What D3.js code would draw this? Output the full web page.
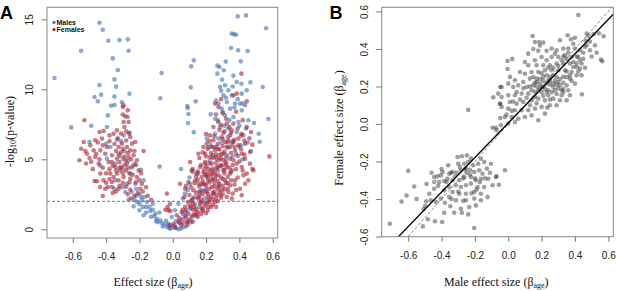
<!DOCTYPE html>
<html>
<head>
<meta charset="utf-8">
<script src="https://cdn.jsdelivr.net/npm/d3@7"></script>
<style>
  body { margin: 0; background: #fff; }
  svg { display: block; }
</style>
</head>
<body>
<svg width="617" height="291"></svg>
<script>
// panel A: effect size vs -log10(p), males (blue) and females (red)
const malesA = [
  [-0.44,14.76],[-0.42,14.26],[-0.55,12.76],[-0.387,13.47],[-0.32,13.52],[-0.27,13.57],[-0.265,12.76],
  [-0.36,12.21],[-0.33,11.38],[-0.35,10.71],[-0.34,10.19],[-0.44,10.31],[-0.71,10.81],[-0.067,11.17],
  [-0.075,9.36],[-0.43,9.62],[-0.47,9.45],[-0.45,9.14],[-0.35,9.48],[-0.26,9.69],[-0.37,8.83],[-0.35,8.88],
  [-0.305,9.07],[-0.39,8.14],[-0.27,8.02],[-0.61,7.28],[-0.49,7.4],[-0.395,7.31],[-0.263,6.83],[-0.50,6.24],
  [-0.40,6.12],[-0.435,4.55],[-0.079,4.48],[-0.295,6.71],[-0.325,5.4],[-0.345,4.69],[-0.30,4.33],[-0.23,4.69],
  [-0.19,4.26],[-0.175,3.5],[-0.275,3.26],[-0.285,2.67],[-0.265,2.12],[-0.23,2.12],[-0.215,1.95],[-0.19,2.31],
  [-0.17,2.31],[-0.185,2.07],[-0.155,1.95],[-0.16,1.6],[-0.235,1.64],[-0.20,1.36],[-0.175,1.0],[-0.135,1.31],
  [-0.12,1.83],[-0.105,1.12],[-0.095,0.76],[-0.075,0.64],[-0.065,0.45],[-0.05,0.36],[-0.035,0.17],[-0.025,0.29],
  [-0.015,0.05],[-0.247,2.67],[-0.335,6.4],[-0.30,5.05],[-0.345,3.5],[-0.395,5.05],[-0.375,5.88],[-0.255,3.98],
  [-0.22,2.9],[-0.2,2.5],[-0.14,1.6],[-0.11,0.95],[-0.09,0.5],[-0.06,0.2],
  [-0.12,1.4],[-0.1,0.6],[-0.08,1.2],[-0.04,0.6],[-0.02,0.1],[-0.13,0.9],[-0.16,1.2],[-0.2,1.8],[-0.22,2.4],
  [-0.18,1.6],[-0.31,6.3],[-0.29,5.6],[-0.27,4.9],[-0.32,4.4],[-0.25,4.4],[-0.22,3.4],[-0.3,3.0],[-0.35,2.9],
  [0.39,15.21],[0.44,15.28],[0.56,14.36],[0.354,13.98],[0.368,13.93],[0.38,13.9],[0.35,12.95],[0.392,12.79],
  [0.45,12.74],[0.318,11.98],[0.408,12.0],[0.126,12.07],[0.11,11.64],[0.268,11.69],[0.28,11.6],[0.306,11.36],
  [0.268,11.12],[0.364,10.98],[0.296,10.69],[0.384,10.52],[0.412,10.4],[0.466,10.5],[0.108,10.14],[0.54,10.17],
  [0.138,9.14],[0.088,8.81],[0.09,8.67],[0.094,8.24],[0.092,7.6],[0.574,7.88],[0.126,6.93],[0.488,7.6],
  [0.516,6.83],[0.522,6.26],[0.05,4.31],[0.284,10.17],[0.314,10.29],[0.334,9.93],[0.304,9.57],[0.354,9.57],
  [0.324,9.1],[0.374,8.98],[0.274,8.98],[0.294,8.62],[0.344,8.62],[0.404,8.98],[0.414,8.5],[0.434,8.86],
  [0.228,8.21],[0.254,7.9],[0.314,8.14],[0.364,8.02],[0.394,7.67],[0.454,7.79],[0.284,7.31],[0.334,7.19],
  [0.384,6.95],[0.424,6.71],[0.274,6.48],[0.204,6.48],[0.214,5.88],[0.354,6.12],[0.254,5.17],[0.304,5.4],
  [0.194,4.69],[0.154,3.98],[0.104,3.26],[0.074,2.55],[0.034,1.83],[0.014,1.36],[-0.006,0.88],[-0.026,0.4],
  [0.01,0.29],[0.044,0.64],[0.074,1.0],[0.104,1.48],[0.134,1.83],[0.154,2.31],[0.174,2.79],[0.234,3.5],
  [0.414,9.69],[0.444,9.93],[0.254,6.83],[0.324,5.88],[0.064,0.17],[0.034,0.0],[0.02,0.1],[0.09,0.6],
  [0.12,1.0],[0.16,1.6],[0.19,2.2],[0.2,2.9],[0.25,4.2],[0.3,4.6],[0.36,5.2],[0.4,5.9],[0.23,6.0],
  [0.26,9.2],[0.29,9.9],[0.32,9.4],[0.36,10.2],[0.39,9.3],[0.42,9.0],[0.3,8.4],[0.34,7.8],[0.37,8.7],
  [0.4,7.4],[0.44,7.2],[0.27,7.8],[0.31,7.4],[0.33,6.6],[0.36,6.3],[0.41,6.0],[0.45,6.2],[0.47,5.6],
  [0.29,6.2],[0.26,5.9],[0.24,5.3],[0.32,5.1],[0.38,5.4],[0.42,5.0],[0.22,4.9],[0.27,4.4],[0.35,4.1],
  [0.2,3.8],[0.18,3.2],[0.16,2.7],[0.13,2.3],[0.11,2.0],[0.08,1.4],[0.06,1.1],[0.04,0.45],[0.02,0.6],
  [0.0,0.15],[0.05,0.05],[0.08,0.2],[0.11,0.5],[0.14,0.95],[0.18,1.4],[0.21,2.0],[0.24,2.6],[0.28,3.0],
  [0.33,3.3],[0.06,2.2],[0.09,2.8],[0.1,3.7],[0.12,4.1]
];
const femalesA = [
  [-0.53,7.79],[-0.44,6.95],[-0.415,7.02],[-0.535,6.24],[-0.55,5.76],[-0.525,5.6],[-0.56,4.93],[-0.49,4.83],
  [-0.465,5.17],[-0.47,3.45],[-0.455,3.43],[-0.437,3.02],[-0.42,2.38],[-0.40,3.33],[-0.39,3.02],[-0.375,3.98],
  [-0.355,3.74],[-0.345,4.45],[-0.295,8.86],[-0.30,8.74],[-0.285,8.07],[-0.295,7.67],[-0.335,7.07],[-0.29,7.31],
  [-0.355,6.83],[-0.38,6.71],[-0.425,6.48],[-0.465,6.36],[-0.475,5.64],[-0.435,5.64],[-0.405,5.4],[-0.385,4.81],
  [-0.365,5.29],[-0.325,5.88],[-0.305,6.12],[-0.275,5.88],[-0.255,5.64],[-0.245,6.12],[-0.225,6.24],[-0.265,5.17],
  [-0.285,4.93],[-0.275,4.69],[-0.315,4.21],[-0.335,3.98],[-0.325,3.5],[-0.365,3.38],[-0.415,3.5],[-0.405,2.9],
  [-0.295,3.74],[-0.255,3.62],[-0.215,3.74],[-0.205,4.21],[-0.235,5.29],[-0.215,4.93],[-0.175,5.6],[-0.495,6.0],
  [-0.515,5.4],[-0.445,4.69],[-0.435,3.98],[-0.365,3.02],[-0.325,2.9],[-0.225,3.26],[-0.185,3.26],[-0.195,2.9],
  [-0.255,2.83],[-0.365,4.81],[-0.335,5.05],[-0.255,6.6],[-0.265,7.67],[-0.395,5.88],[-0.035,2.55],[-0.045,1.4],
  [-0.031,1.6],[-0.015,1.31],[-0.31,5.5],[-0.29,5.2],[-0.27,4.4],[-0.3,4.0],[-0.24,4.5],[-0.26,4.0],
  [-0.38,4.3],[-0.36,4.55],[-0.34,4.2],[-0.32,4.8],[-0.31,4.45],[-0.29,4.6],[-0.28,4.2],[-0.27,5.45],[-0.3,5.75],
  [-0.32,5.25],[-0.34,5.6],[-0.35,6.1],[-0.33,6.5],[-0.31,6.85],[-0.28,6.35],[-0.26,6.9],[-0.25,5.0],[-0.23,5.6],
  [-0.22,4.6],[-0.24,3.9],[-0.26,3.35],[-0.28,3.05],[-0.3,3.3],[-0.32,3.1],[-0.34,2.7],[-0.36,2.6],[-0.38,3.6],
  [-0.4,4.0],[-0.42,4.4],[-0.44,5.0],[-0.46,5.4],[-0.48,4.3],[-0.5,5.1],[-0.52,4.7],[-0.42,6.0],[-0.45,6.2],
  [-0.38,6.3],[-0.28,7.0],[-0.3,8.2],[-0.27,8.5],[-0.2,3.5],[-0.19,4.0],[-0.21,2.6],[-0.23,2.4],[-0.25,2.2],
  [-0.27,2.5],[-0.18,2.7],[-0.16,3.0],[-0.15,2.4],[-0.13,2.1],
  [0.412,11.12],[0.384,9.69],[0.444,9.14],[0.254,8.98],[0.274,7.67],[0.324,7.55],[0.364,7.55],[0.244,7.31],
  [0.304,6.88],[0.344,6.71],[0.394,6.48],[0.47,6.95],[0.434,6.12],[0.478,6.05],[0.224,6.71],[0.204,6.12],
  [0.234,5.88],[0.274,5.76],[0.314,6.24],[0.344,5.88],[0.374,5.64],[0.414,5.4],[0.434,5.05],[0.464,4.69],
  [0.478,4.33],[0.58,5.21],[0.194,5.4],[0.224,5.17],[0.264,5.05],[0.304,4.93],[0.344,5.05],[0.384,4.69],
  [0.414,4.45],[0.444,3.98],[0.434,3.26],[0.404,2.9],[0.414,2.43],[0.374,3.5],[0.344,3.98],[0.304,4.21],
  [0.264,4.45],[0.234,4.69],[0.194,4.81],[0.164,4.45],[0.104,4.81],[0.114,4.21],[0.144,3.98],[0.174,3.74],
  [0.204,3.86],[0.234,3.98],[0.274,3.86],[0.314,3.5],[0.344,3.14],[0.274,3.14],[0.234,3.02],[0.194,3.26],
  [0.154,3.26],[0.094,3.38],[0.044,3.26],[0.074,2.9],[0.124,2.79],[0.164,2.67],[0.204,2.67],[0.244,2.55],
  [0.284,2.43],[0.324,2.31],[0.354,2.19],[0.254,1.95],[0.204,1.83],[0.164,1.83],[0.114,2.07],[0.074,1.6],
  [0.124,1.36],[0.174,1.48],[0.214,1.6],[0.094,1.12],[0.054,1.24],[0.024,1.0],[0.064,0.76],[0.114,0.88],
  [0.144,1.12],[0.034,0.52],[0.004,0.4],[-0.016,0.29],[0.014,0.12],[0.084,0.52],[-0.026,1.36],[-0.016,1.83],
  [0.154,5.4],[0.184,5.88],[0.244,6.36],[0.294,6.6],[0.334,6.36],[0.364,6.24],[0.394,6.0],[0.254,5.64],
  [0.294,5.4],[0.324,5.29],[0.364,4.93],[0.284,4.57],[0.324,4.45],[0.354,4.21],[0.214,4.33],[0.184,4.1],
  [0.134,3.5],[0.174,3.26],[0.214,3.5],[0.254,3.62],[0.294,2.79],[0.334,2.67],[0.424,3.86],[0.454,3.5],
  [0.484,4.21],[0.414,6.83],[0.444,7.31],[0.354,7.07],[0.464,5.52],[0.274,8.74],[0.364,9.57],
  [0.23,4.2],[0.25,3.3],[0.27,2.9],[0.29,3.7],[0.31,4.0],[0.21,2.3],[0.19,1.9],[0.15,2.2],[0.13,1.6],
  [0.1,1.7],[0.18,2.5],[0.22,2.9],[0.26,2.2],[0.3,3.1],[0.2,4.5],[0.24,5.1],[0.28,5.3],[0.32,4.8],
  [0.04,0.8],[0.06,0.45],[0.08,0.9],[0.1,0.7],[0.12,0.55],[0.13,1.05],[0.15,0.9],[0.17,1.1],[0.05,0.3],[0.09,0.35],
  [0.06,1.4],[0.08,1.25],[0.11,1.55],[0.14,1.45],[0.15,1.25],[0.18,1.3],[0.19,1.65],[0.21,1.35],[0.22,1.95],
  [0.23,1.6],[0.24,1.75],[0.17,1.95],[0.12,1.8],[0.09,1.95],[0.2,1.15],[0.26,1.6],[0.27,2.0],
  [0.07,2.3],[0.1,2.45],[0.12,2.2],[0.14,2.6],[0.16,2.4],[0.17,2.1],[0.19,2.75],[0.21,2.55],[0.23,2.35],
  [0.25,2.7],[0.26,2.45],[0.28,2.65],[0.3,2.5],[0.31,2.85],[0.33,2.9],[0.22,2.1],[0.24,2.15],[0.29,2.25],
  [0.36,2.55],[0.38,2.8],
  [0.08,3.1],[0.11,3.0],[0.13,3.3],[0.15,3.55],[0.16,3.05],[0.18,3.45],[0.2,3.15],[0.21,3.7],[0.22,3.35],
  [0.24,3.6],[0.25,3.05],[0.26,3.85],[0.27,3.45],[0.28,3.25],[0.3,3.6],[0.32,3.3],[0.33,3.75],[0.35,3.5],
  [0.37,3.2],[0.39,3.7],[0.23,3.85],[0.19,3.95],[0.14,3.8],
  [0.12,4.3],[0.15,4.15],[0.17,4.6],[0.19,4.3],[0.21,4.05],[0.22,4.7],[0.24,4.35],[0.26,4.75],[0.27,4.2],
  [0.29,4.5],[0.31,4.25],[0.32,4.65],[0.34,4.4],[0.36,4.6],[0.38,4.3],[0.4,4.85],[0.42,4.2],[0.28,4.95],[0.25,4.0],
  [0.16,5.1],[0.18,5.5],[0.2,5.2],[0.21,5.75],[0.23,5.45],[0.25,5.85],[0.26,5.35],[0.28,5.7],[0.29,5.1],
  [0.31,5.55],[0.33,5.85],[0.35,5.45],[0.37,5.9],[0.39,5.25],[0.41,5.7],[0.43,5.35],[0.3,5.95],
  [0.2,6.8],[0.22,6.3],[0.25,6.65],[0.27,6.1],[0.28,7.1],[0.3,6.45],[0.31,7.0],[0.33,6.2],[0.35,6.9],
  [0.37,6.4],[0.39,7.2],[0.41,6.7],[0.43,6.35],[0.46,6.5],[0.29,7.45],[0.34,7.3],
  [0.26,8.2],[0.3,8.3],[0.32,7.9],[0.38,8.4],[0.42,7.8],[0.29,9.3]
];
// panel B: male vs female effect size
const pointsB = [
  [-0.24,0.075],[-0.09,0.142],[-0.048,0.197],[-0.048,0.108],[-0.048,0.032],[-0.094,-0.02],[-0.074,-0.02],
  [-0.60,-0.25],[-0.564,-0.333],[-0.61,-0.382],[-0.64,-0.414],[-0.55,-0.40],[-0.71,-0.532],[-0.492,-0.412],
  [-0.498,-0.436],[-0.508,-0.453],[-0.482,-0.508],[-0.512,-0.546],[-0.44,-0.519],[-0.396,-0.523],[-0.204,-0.555],
  [-0.444,-0.283],[-0.424,-0.279],[-0.404,-0.274],[-0.394,-0.256],[-0.444,-0.309],[-0.414,-0.309],[-0.384,-0.304],
  [-0.354,-0.265],[-0.344,-0.26],[-0.334,-0.256],[-0.364,-0.292],[-0.334,-0.30],[-0.304,-0.176],[-0.278,-0.172],
  [-0.248,-0.167],[-0.30,-0.212],[-0.264,-0.212],[-0.24,-0.203],[-0.224,-0.185],[-0.284,-0.247],[-0.254,-0.238],
  [-0.228,-0.247],[-0.204,-0.256],[-0.174,-0.247],[-0.154,-0.265],[-0.128,-0.238],[-0.12,-0.292],[-0.164,-0.292],
  [-0.194,-0.30],[-0.224,-0.283],[-0.264,-0.283],[-0.294,-0.30],[-0.314,-0.327],[-0.284,-0.336],[-0.254,-0.327],
  [-0.224,-0.318],[-0.184,-0.336],[-0.144,-0.336],[-0.354,-0.336],[-0.384,-0.354],[-0.334,-0.363],[-0.294,-0.372],
  [-0.254,-0.372],[-0.204,-0.363],[-0.164,-0.372],[-0.124,-0.39],[-0.444,-0.345],[-0.434,-0.416],[-0.404,-0.398],
  [-0.354,-0.39],[-0.314,-0.407],[-0.254,-0.407],[-0.204,-0.398],[-0.164,-0.407],[-0.284,-0.452],[-0.278,-0.473],
  [-0.24,-0.482],[-0.324,-0.473],[-0.348,-0.439],[-0.384,-0.473],[-0.194,-0.434],[-0.234,-0.443],[-0.474,-0.372],
  [-0.464,-0.407],[-0.164,-0.185],[-0.18,-0.212],[-0.074,-0.283],[-0.104,-0.212],[-0.144,-0.203],[-0.094,-0.327],
  [-0.02,-0.247],[-0.07,-0.279],[-0.056,-0.324],[-0.27,-0.29],[-0.25,-0.26],[-0.31,-0.26],[-0.21,-0.22],
  [-0.42,-0.33],[-0.37,-0.31],[-0.32,-0.28],[-0.29,-0.23],[-0.26,-0.24],[-0.23,-0.27],[-0.2,-0.29],[-0.17,-0.31],
  [-0.14,-0.29],[-0.11,-0.26],[-0.3,-0.36],[-0.34,-0.4],[-0.38,-0.42],[-0.27,-0.41],[-0.22,-0.37],[-0.19,-0.35],
  [-0.36,-0.22],[-0.4,-0.24],[-0.46,-0.26],[-0.49,-0.32],
  [0.42,0.581],[0.146,0.469],[0.356,0.473],[0.16,0.437],[0.186,0.437],[0.21,0.434],[0.19,0.418],[0.47,0.482],
  [0.512,0.478],[0.544,0.484],[0.572,0.468],[0.556,0.343],[0.564,0.334],[0.442,0.158],[0.234,0.087],[-0.004,0.336],
  [0.024,0.347],[-0.004,0.293],[0.376,0.452],[0.39,0.428],[0.31,0.446],[0.26,0.402],[0.29,0.393],[0.33,0.402],
  [0.36,0.402],[0.40,0.402],[0.43,0.393],[0.46,0.41],[0.49,0.393],[0.52,0.42],[0.464,0.446],[0.12,0.375],
  [0.16,0.34],[0.20,0.357],[0.23,0.34],[0.26,0.357],[0.30,0.357],[0.34,0.366],[0.38,0.357],[0.42,0.357],
  [0.45,0.348],[0.41,0.322],[0.37,0.322],[0.33,0.322],[0.29,0.322],[0.25,0.313],[0.21,0.313],[0.17,0.313],
  [0.12,0.313],[0.07,0.277],[0.10,0.268],[0.14,0.277],[0.18,0.277],[0.22,0.286],[0.26,0.286],[0.30,0.286],
  [0.34,0.286],[0.38,0.277],[0.41,0.26],[0.37,0.242],[0.33,0.251],[0.29,0.251],[0.25,0.251],[0.21,0.251],
  [0.17,0.242],[0.13,0.242],[0.09,0.224],[0.04,0.233],[0.01,0.251],[-0.04,0.197],[0.00,0.215],[0.03,0.197],
  [0.06,0.206],[0.11,0.197],[0.15,0.206],[0.19,0.215],[0.23,0.215],[0.27,0.215],[0.31,0.206],[0.35,0.206],
  [0.40,0.215],[0.32,0.18],[0.28,0.18],[0.24,0.18],[0.20,0.171],[0.16,0.171],[0.12,0.162],[0.08,0.162],
  [0.04,0.153],[0.00,0.153],[-0.04,0.144],[0.01,0.117],[0.05,0.108],[0.09,0.117],[0.14,0.126],[0.18,0.135],
  [0.22,0.126],[0.27,0.135],[0.31,0.126],[0.35,0.126],[0.29,0.10],[0.25,0.10],[0.20,0.091],[0.16,0.082],
  [0.12,0.073],[0.08,0.073],[0.04,0.073],[0.00,0.082],[-0.04,0.091],[-0.02,0.037],[0.02,0.037],[0.06,0.028],
  [0.10,0.037],[0.14,0.046],[-0.044,-0.007],[0.00,0.002],[0.04,0.011],[-0.07,-0.034],[-0.05,0.108],[-0.06,0.162],
  [0.22,0.055],[0.18,0.02],[0.17,0.224],[0.20,0.197],[0.24,0.233],[0.27,0.197],[0.30,0.224],[0.33,0.188],
  [0.36,0.18],[0.22,0.188],[0.18,0.18],[0.14,0.18],[0.16,0.144],[0.24,0.153],[0.32,0.153],[0.37,0.153],
  [0.28,0.375],[0.32,0.34],[0.35,0.348],[0.44,0.322],[0.43,0.295],[0.41,0.304],[0.44,0.26],[0.39,0.304],
  [0.21,0.23],[0.25,0.21],[0.19,0.19],[0.23,0.26],[0.28,0.23],[0.26,0.17],[0.3,0.19],[0.35,0.25],
  [0.15,0.25],[0.17,0.2],[0.19,0.24],[0.21,0.2],[0.23,0.17],[0.25,0.23],[0.27,0.26],[0.29,0.21],[0.31,0.24],
  [0.33,0.22],[0.35,0.28],[0.37,0.26],[0.39,0.33],[0.41,0.36],[0.43,0.34],[0.45,0.38],[0.47,0.42],[0.49,0.44],
  [0.36,0.38],[0.33,0.36],[0.3,0.31],[0.27,0.3],[0.24,0.3],[0.2,0.27],[0.16,0.22],[0.13,0.2],[0.11,0.14],
  [0.09,0.19],[0.07,0.13],[0.05,0.17],[0.03,0.12],[0.02,0.07],[-0.01,0.05],[0.13,0.1],[0.17,0.11],[0.21,0.15],
  [0.25,0.13],[0.29,0.16],[0.33,0.17],[0.38,0.23],[0.42,0.28],[0.46,0.3],[0.5,0.36],[0.53,0.38],[0.48,0.47],
  [0.4,0.46],[0.23,0.39],[0.18,0.39],[0.15,0.4],[0.1,0.33]
];

const ticksA_X = [-0.6, -0.4, -0.2, 0.0, 0.2, 0.4, 0.6];
const ticksA_Y = [0, 5, 10, 15];
const ticksB = [-0.6, -0.4, -0.2, 0.0, 0.2, 0.4, 0.6];
const pThreshold = 2;              // -log10(0.01)
const regLine = {slope: 0.92, intercept: 0.005};

const svg = d3.select("svg");
const sans = "'Liberation Sans', Arial, Helvetica, sans-serif";
const serif = "'Liberation Serif', 'Times New Roman', serif";
const colMale = "#4675b3", colFemale = "#a82236";

// draws box, ticks and rotated y labels the way R does
function drawFrame(g, scX, scY, xTicks, yTicks, xFmt, yFmt, yLabelOff) {
    const [x0, x1] = scX.range();
    const [y1, y0] = scY.range();

    g.append("g")
        .attr("transform", `translate(0, ${y1})`)
        .call(d3.axisBottom(scX).tickValues(xTicks).tickFormat(xFmt).tickSize(5).tickPadding(10))
        .call(a => a.select(".domain").remove())
        .call(a => a.selectAll("line").attr("stroke", "#777"))
        .call(a => a.selectAll("text").attr("font-family", sans).attr("font-size", 10).attr("fill", "#222"));

    g.append("g")
        .attr("transform", `translate(${x0}, 0)`)
        .call(d3.axisLeft(scY).tickValues(yTicks).tickFormat(yFmt).tickSize(5.5))
        .call(a => a.select(".domain").remove())
        .call(a => a.selectAll("line").attr("stroke", "#777"))
        .call(a => a.selectAll("text")
            .attr("font-family", sans).attr("font-size", 10).attr("fill", "#222")
            .attr("text-anchor", "middle")
            .attr("transform", "rotate(-90)")
            .attr("x", 0).attr("dy", 0)
            .attr("y", yLabelOff));

    g.append("rect")
        .attr("x", x0).attr("y", y0)
        .attr("width", x1 - x0).attr("height", y1 - y0)
        .attr("fill", "none").attr("stroke", "#888").attr("stroke-width", 1);
}

function betaLabel(sel, prefix) {
    sel.append("tspan").text(prefix + "(\u03b2");
    sel.append("tspan").text("age").attr("font-size", 8).attr("dy", 2.5);
    sel.append("tspan").text(")").attr("dy", -2.5);
}

// ---------- panel A ----------
function drawPanelA() {
    const scX = d3.scaleLinear().domain([-0.755, 0.63]).range([47, 277.7]);
    const scY = d3.scaleLinear().domain([-0.62, 15.86]).range([238, 7.3]);
    const g = svg.append("g");

    g.append("defs").append("clipPath").attr("id", "clipA")
        .append("rect").attr("x", 47).attr("y", 7.3).attr("width", 230.7).attr("height", 230.7);

    const dots = g.append("g").attr("clip-path", "url(#clipA)");
    dots.selectAll(".m").data(malesA).enter().append("circle")
        .attr("cx", d => scX(d[0])).attr("cy", d => scY(d[1])).attr("r", 2.3)
        .style("fill", colMale).style("fill-opacity", 0.62);
    dots.selectAll(".f").data(femalesA).enter().append("circle")
        .attr("cx", d => scX(d[0])).attr("cy", d => scY(d[1])).attr("r", 2.3)
        .style("fill", colFemale).style("fill-opacity", 0.6);

    g.append("line")
        .attr("x1", 47).attr("x2", 277.7)
        .attr("y1", scY(pThreshold)).attr("y2", scY(pThreshold))
        .attr("stroke", "#666").attr("stroke-width", 0.9).attr("stroke-dasharray", "3,2");

    drawFrame(g, scX, scY, ticksA_X, ticksA_Y, d => d.toFixed(1), d => String(d), -14.5);

    // legend
    const leg = [["Males", colMale, 22.4], ["Females", colFemale, 29.6]];
    leg.forEach(l => {
        g.append("circle").attr("cx", 54).attr("cy", l[2]).attr("r", 1.6).style("fill", l[1]);
        g.append("text").attr("x", 56.5).attr("y", l[2] + 2.5)
            .attr("font-family", sans).attr("font-weight", "bold").attr("font-size", 7)
            .attr("fill", "#111").text(l[0]);
    });

    const xt = g.append("text").attr("x", 153).attr("y", 285.5)
        .attr("text-anchor", "middle").attr("font-family", serif).attr("font-size", 12).attr("fill", "#111");
    betaLabel(xt, "Effect size ");

    const yt = g.append("text").attr("transform", "translate(13.5, 131.7) rotate(-90)")
        .attr("text-anchor", "middle").attr("font-family", serif).attr("font-size", 12).attr("fill", "#111");
    yt.append("tspan").text("-log");
    yt.append("tspan").text("10").attr("font-size", 8).attr("dy", 2.5);
    yt.append("tspan").text("(p-value)").attr("dy", -2.5);

    g.append("text").attr("x", 0).attr("y", 18.5)
        .attr("font-family", sans).attr("font-weight", "bold").attr("font-size", 18).text("A");
}

// ---------- panel B ----------
function drawPanelB() {
    const scX = d3.scaleLinear().domain([-0.759, 0.63]).range([381.7, 613.3]);
    const scY = d3.scaleLinear().domain([-0.601, 0.622]).range([236.7, 7.3]);
    const g = svg.append("g");

    g.append("defs").append("clipPath").attr("id", "clipB")
        .append("rect").attr("x", 381.7).attr("y", 7.3).attr("width", 231.6).attr("height", 229.4);

    const inner = g.append("g").attr("clip-path", "url(#clipB)");
    inner.selectAll("circle").data(pointsB).enter().append("circle")
        .attr("cx", d => scX(d[0])).attr("cy", d => scY(d[1])).attr("r", 2.3)
        .style("fill", "#333").style("fill-opacity", 0.47);

    const xs = scX.domain();
    // identity line
    inner.append("line")
        .attr("x1", scX(xs[0])).attr("y1", scY(xs[0]))
        .attr("x2", scX(xs[1])).attr("y2", scY(xs[1]))
        .attr("stroke", "#777").attr("stroke-width", 0.9).attr("stroke-dasharray", "3,2");
    // fitted line
    inner.append("line")
        .attr("x1", scX(xs[0])).attr("y1", scY(regLine.intercept + regLine.slope * xs[0]))
        .attr("x2", scX(xs[1])).attr("y2", scY(regLine.intercept + regLine.slope * xs[1]))
        .attr("stroke", "#000").attr("stroke-width", 1.3);

    drawFrame(g, scX, scY, ticksB, ticksB, d => d.toFixed(1), d => d.toFixed(1), -14);

    const xt = g.append("text").attr("x", 496.3).attr("y", 285.5)
        .attr("text-anchor", "middle").attr("font-family", serif).attr("font-size", 12).attr("fill", "#111");
    betaLabel(xt, "Male effect size ");

    const yt = g.append("text").attr("transform", "translate(343.3, 128) rotate(-90)")
        .attr("text-anchor", "middle").attr("font-family", serif).attr("font-size", 12).attr("fill", "#111");
    betaLabel(yt, "Female effect size ");

    g.append("text").attr("x", 329.5).attr("y", 18.5)
        .attr("font-family", sans).attr("font-weight", "bold").attr("font-size", 18).text("B");
}

drawPanelA();
drawPanelB();
</script>
</body>
</html>
